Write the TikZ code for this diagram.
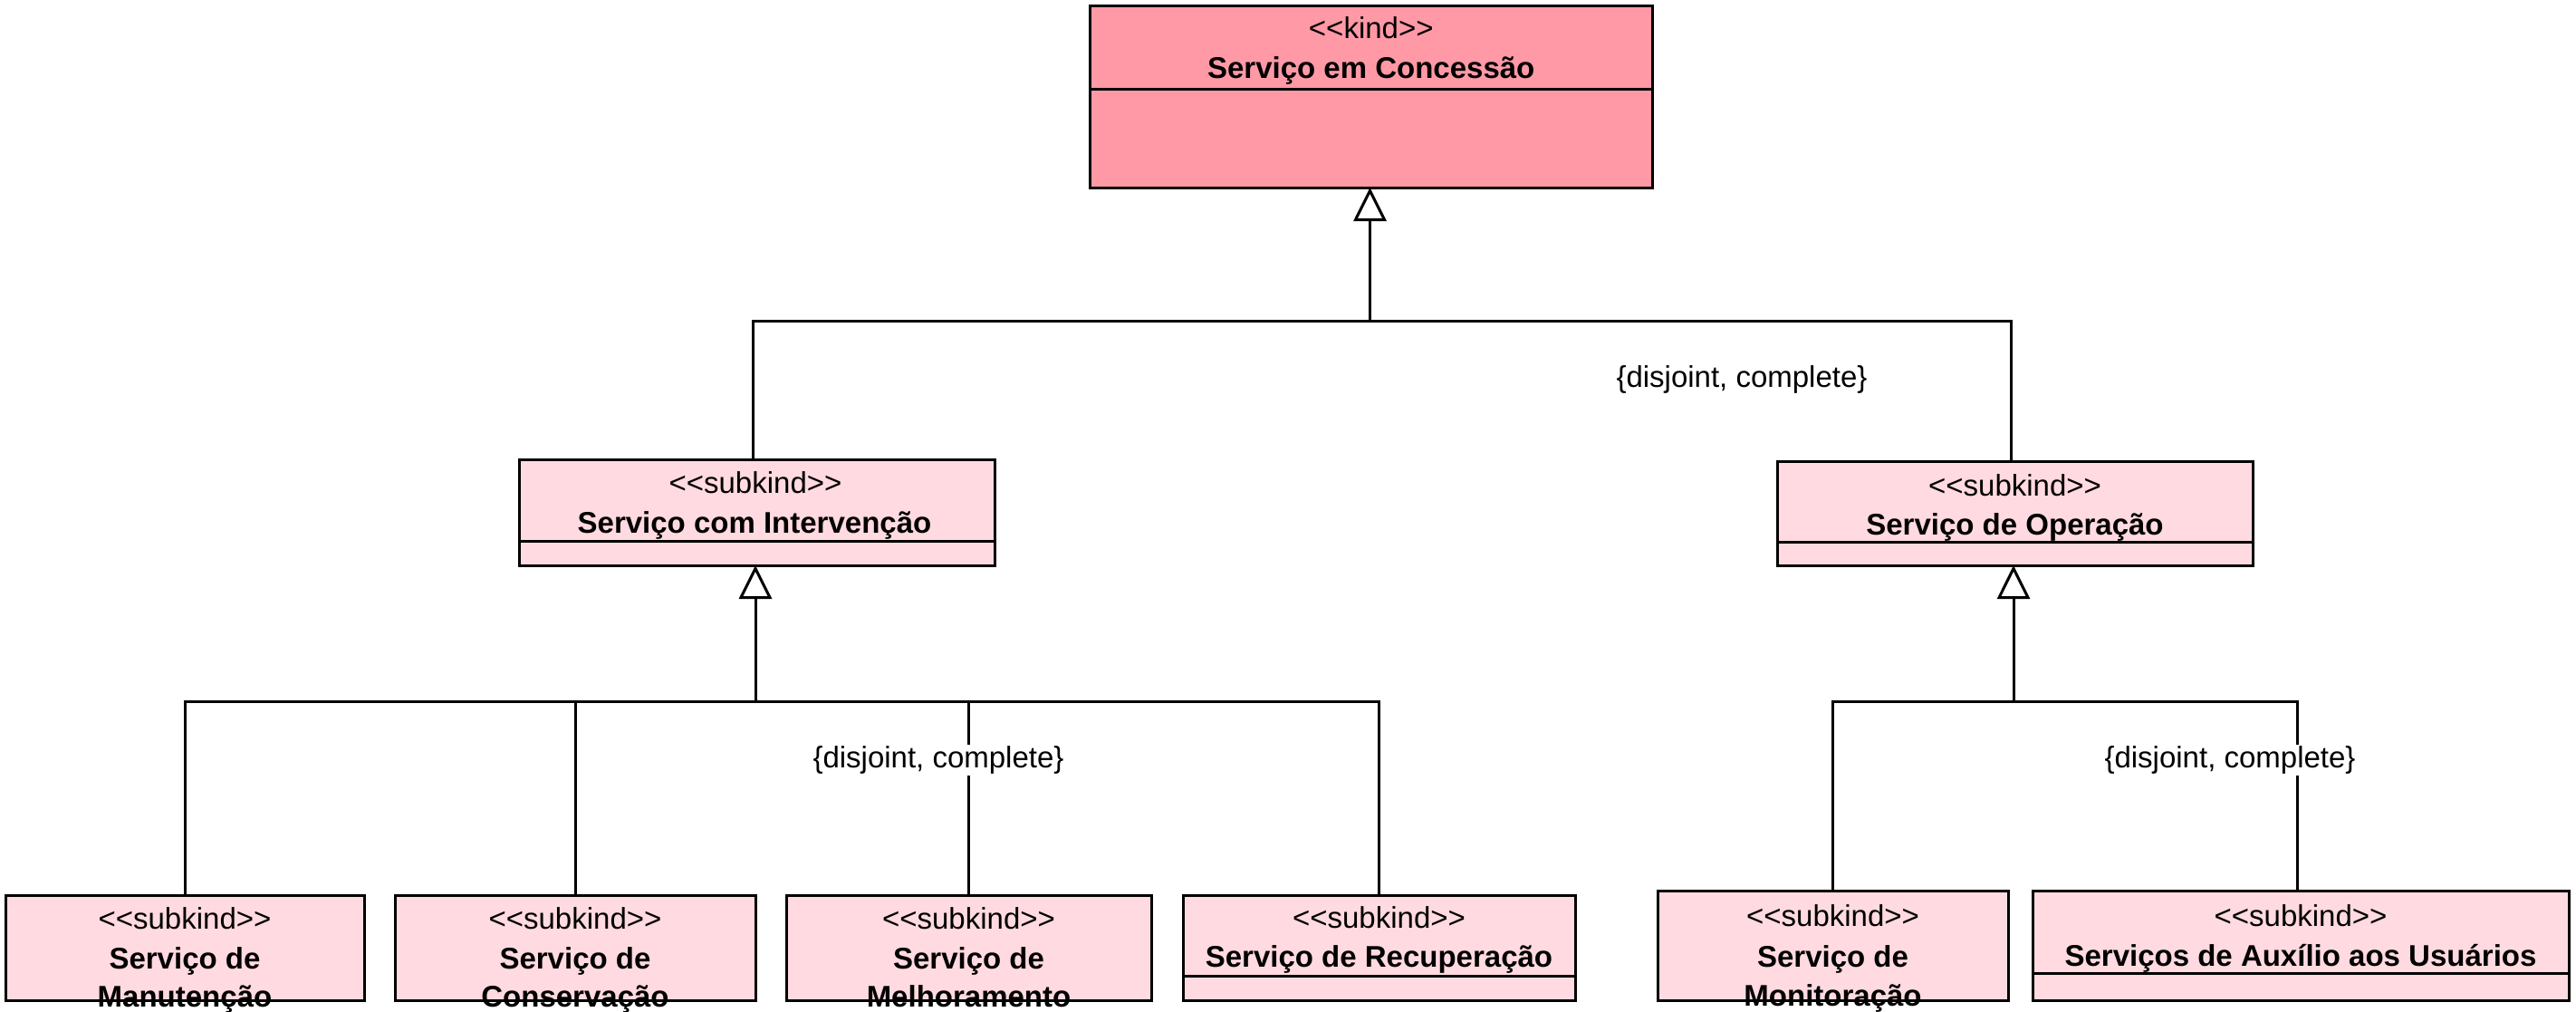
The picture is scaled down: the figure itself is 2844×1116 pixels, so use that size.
\documentclass[tikz,border=0pt]{standalone}
\usepackage{fontspec}
\setmainfont{Liberation Sans}
\usetikzlibrary{arrows.meta}
\definecolor{kindfill}{RGB}{255,153,166}
\definecolor{subfill}{RGB}{255,218,224}
\newcommand\ster[1]{<\kern0pt<#1>\kern0pt>}
\begin{document}
\begin{tikzpicture}[x=1pt,y=-1pt,
  box/.style={draw=black, line width=3pt, anchor=north west, inner sep=0pt, outer sep=0pt},
  kindbox/.style={box, fill=kindfill},
  subbox/.style={box, fill=subfill},
  txt/.style={font=\fontsize{33}{40}\selectfont, inner sep=0pt, anchor=base},
  nm/.style={txt, font=\fontsize{33}{40}\selectfont\bfseries},
  lab/.style={font=\fontsize{33}{40}\selectfont, fill=white, inner sep=2pt},
  ln/.style={line width=3pt},
  gen/.style={line width=3pt, -{Triangle[open, length=37pt, width=36pt]}}]
\useasboundingbox (0,0) rectangle (2844,1116);
% boxes
\node[kindbox, minimum width=620.5pt, minimum height=200pt] (top) at (1203.5,7) {};
\node[subbox, minimum width=525pt, minimum height=117pt] (midL) at (573,507) {};
\node[subbox, minimum width=525pt, minimum height=115pt] (midR) at (1962,509) {};
\node[subbox, minimum width=396pt, minimum height=116pt] (b1) at (6,988) {};
\node[subbox, minimum width=398pt, minimum height=116pt] (b2) at (436,988) {};
\node[subbox, minimum width=403pt, minimum height=116pt] (b3) at (868,988) {};
\node[subbox, minimum width=433pt, minimum height=116pt] (b4) at (1306,988) {};
\node[subbox, minimum width=387pt, minimum height=121pt] (b5) at (1830,983) {};
\node[subbox, minimum width=592pt, minimum height=121pt] (b6) at (2244,983) {};
% dividers
\draw[ln] (top.west |- 0,98) -- (top.east |- 0,98);
\draw[ln] (midL.west |- 0,597) -- (midL.east |- 0,597);
\draw[ln] (midR.west |- 0,598) -- (midR.east |- 0,598);
\draw[ln] (b4.west |- 0,1077) -- (b4.east |- 0,1077);
\draw[ln] (b6.west |- 0,1074) -- (b6.east |- 0,1074);
% texts
\node[txt] (topS) at (1513.75,43) {\ster{kind}};
\node[nm] (topN) at (1513.75,86) {Serviço em Concessão};
\node[txt] (midLS) at (834,544) {\ster{subkind}};
\node[nm] (midLN) at (833,588) {Serviço com Intervenção};
\node[txt] (midRS) at (2224.5,547) {\ster{subkind}};
\node[nm] (midRN) at (2224.5,590) {Serviço de Operação};
\node[txt] (b1S) at (204,1025) {\ster{subkind}};
\node[nm] (b1N) at (204,1069) {Serviço de};
\node[nm] (b1M) at (204,1111) {Manutenção};
\node[txt] (b2S) at (635,1025) {\ster{subkind}};
\node[nm] (b2N) at (635,1069) {Serviço de};
\node[nm] (b2M) at (635,1111) {Conservação};
\node[txt] (b3S) at (1069.5,1025) {\ster{subkind}};
\node[nm] (b3N) at (1069.5,1069) {Serviço de};
\node[nm] (b3M) at (1069.5,1111) {Melhoramento};
\node[txt] (b4S) at (1522.5,1024) {\ster{subkind}};
\node[nm] (b4N) at (1522.5,1067) {Serviço de Recuperação};
\node[txt] (b5S) at (2023.5,1022) {\ster{subkind}};
\node[nm] (b5N) at (2023.5,1067) {Serviço de};
\node[nm] (b5M) at (2023.5,1110) {Monitoração};
\node[txt] (b6S) at (2540,1022) {\ster{subkind}};
\node[nm] (b6N) at (2540,1066) {Serviços de Auxílio aos Usuários};
% connectors
\coordinate (j0) at (1512.5,354);
\draw[gen] (j0) -- (top.south -| j0);
\draw[ln] ([xshift=-4pt]midL.north) |- (j0) -| ([xshift=-4pt]midR.north);
\coordinate (j1) at (834,774);
\draw[gen] (j1) -- (midL.south -| j1);
\draw[ln] (b1.north) |- (j1) -| (b4.north);
\draw[ln] (b2.north) -- (b2.north |- j1);
\draw[ln] (b3.north) -- (b3.north |- j1);
\coordinate (j2) at (2223,774);
\draw[gen] (j2) -- (midR.south -| j2);
\draw[ln] (b5.north) |- (j2) -| ([xshift=-4pt]b6.north);
% labels
\node[lab] (l1) at (1923,419) {\{disjoint, complete\}};
\node[lab] (l2) at (1036,839) {\{disjoint, complete\}};
\node[lab] (l3) at (2462,839) {\{disjoint, complete\}};
\end{tikzpicture}
\end{document}
